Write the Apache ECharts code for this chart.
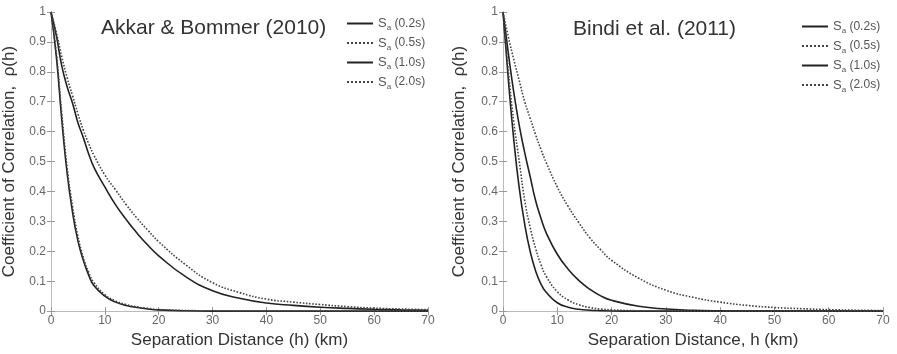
<!DOCTYPE html>
<html>
<head>
<meta charset="utf-8">
<script src="https://cdn.jsdelivr.net/npm/echarts@6/dist/echarts.min.js"></script>
<style>
  html, body { margin: 0; padding: 0; background: #fff; }
  #chart { width: 897px; height: 354px; }
</style>
</head>
<body>
<div id="chart"></div>
<script>
// ── Data ──
const distanceKm = [0, 1, 2, 3, 4, 5, 6, 7, 8, 10, 12, 14, 16, 18, 20, 25, 30, 35, 40, 45, 50, 55, 60, 65, 70];
const periodNames = ['Sa (0.2s)', 'Sa (0.5s)', 'Sa (1.0s)', 'Sa (2.0s)'];

// Akkar & Bommer (2010)
const akkar02 = [1, 0.85, 0.64, 0.46, 0.33, 0.235, 0.17, 0.12, 0.085, 0.05, 0.03, 0.019, 0.012, 0.007, 0.004, 0.001, 0, 0, 0, 0, 0, 0, 0, 0, 0];
const akkar05 = [1, 0.86, 0.66, 0.48, 0.35, 0.25, 0.18, 0.13, 0.095, 0.055, 0.034, 0.022, 0.014, 0.009, 0.005, 0.002, 0.001, 0, 0, 0, 0, 0, 0, 0, 0];
const akkar10 = [1, 0.92, 0.82, 0.75, 0.695, 0.63, 0.58, 0.525, 0.48, 0.415, 0.355, 0.305, 0.26, 0.22, 0.185, 0.115, 0.068, 0.043, 0.027, 0.019, 0.013, 0.009, 0.006, 0.004, 0.003];
const akkar20 = [1, 0.93, 0.85, 0.78, 0.72, 0.66, 0.605, 0.56, 0.52, 0.455, 0.405, 0.355, 0.31, 0.27, 0.232, 0.155, 0.095, 0.062, 0.04, 0.03, 0.022, 0.015, 0.01, 0.007, 0.005];

// Bindi et al. (2011)
const bindi02 = [1, 0.77, 0.57, 0.41, 0.29, 0.2, 0.135, 0.09, 0.062, 0.028, 0.013, 0.006, 0.003, 0.0015, 0.0005, 0, 0, 0, 0, 0, 0, 0, 0, 0, 0];
const bindi05 = [1, 0.8, 0.63, 0.5, 0.37, 0.28, 0.21, 0.155, 0.115, 0.065, 0.037, 0.021, 0.012, 0.007, 0.004, 0.001, 0, 0, 0, 0, 0, 0, 0, 0, 0];
const bindi10 = [1, 0.86, 0.73, 0.62, 0.53, 0.45, 0.37, 0.31, 0.26, 0.19, 0.14, 0.102, 0.073, 0.051, 0.036, 0.016, 0.007, 0.003, 0.001, 0, 0, 0, 0, 0, 0];
const bindi20 = [1, 0.915, 0.84, 0.77, 0.7, 0.645, 0.59, 0.54, 0.495, 0.415, 0.35, 0.295, 0.245, 0.205, 0.17, 0.11, 0.07, 0.046, 0.03, 0.019, 0.012, 0.008, 0.005, 0.003, 0.002];

const FONT = '"Liberation Sans", Arial, sans-serif';
const TICK_GRAY = '#999';
const LABEL_GRAY = '#666';
const TEXT_DARK = '#333';

const grids = [
  { left: 48, top: 12, width: 380, height: 300 },
  { left: 503, top: 12, width: 380, height: 300 },
];

function pairs(ys) {
  return distanceKm.map((x, i) => [x, ys[i]]);
}

function bottomAxis(gridIndex, name) {
  return {
    type: 'value', gridIndex, position: 'bottom',
    min: 0, max: 70, interval: 10,
    name, nameLocation: 'middle', nameGap: 20,
    nameTextStyle: { fontFamily: FONT, fontSize: 17, color: TEXT_DARK },
    axisLine: { show: true, lineStyle: { color: '#aaa' } },
    axisTick: { show: true, inside: true, length: 4, lineStyle: { color: TICK_GRAY } },
    axisLabel: { fontFamily: FONT, fontSize: 12, color: LABEL_GRAY, margin: 4 },
    splitLine: { show: false },
  };
}

function topAxis(gridIndex) {
  return {
    type: 'value', gridIndex, position: 'top',
    min: 0, max: 70, interval: 10,
    axisLine: { show: true, lineStyle: { color: '#bbb' } },
    axisTick: { show: true, inside: true, length: 4, lineStyle: { color: TICK_GRAY } },
    axisLabel: { show: false },
    splitLine: { show: false },
  };
}

function leftAxis(gridIndex, nameGap) {
  return {
    type: 'value', gridIndex, position: 'left',
    min: 0, max: 1, interval: 0.1,
    name: 'Coefficient of Correlation,  ρ(h)', nameLocation: 'middle', nameGap,
    nameTextStyle: { fontFamily: FONT, fontSize: 17, color: TEXT_DARK },
    axisLine: { show: true, lineStyle: { color: '#aaa' } },
    axisTick: { show: true, inside: true, length: 4, lineStyle: { color: TICK_GRAY } },
    axisLabel: { fontFamily: FONT, fontSize: 12, color: LABEL_GRAY, margin: 5 },
    splitLine: { show: false },
  };
}

function rightAxis(gridIndex) {
  return {
    type: 'value', gridIndex, position: 'right',
    min: 0, max: 1, interval: 0.1,
    axisLine: { show: true, lineStyle: { color: '#bbb' } },
    axisTick: { show: true, inside: true, length: 4, lineStyle: { color: TICK_GRAY } },
    axisLabel: { show: false },
    splitLine: { show: false },
  };
}

// solid for 0.2s / 1.0s, dotted for 0.5s / 2.0s
function curve(name, ys, panel, dotted) {
  const color = dotted ? '#444' : '#222';
  return {
    name, type: 'line',
    xAxisIndex: panel * 2, yAxisIndex: panel * 2,
    data: pairs(ys),
    smooth: 0.5,
    symbol: 'none',
    color,
    itemStyle: { color },
    lineStyle: { width: 1.6, color, type: dotted ? 'dotted' : 'solid' },
    z: dotted ? 3 : 2,
  };
}

function legendFor(left, top) {
  const txt = { color: '#555', fontFamily: FONT };
  return {
    orient: 'vertical', left, top, padding: 0,
    itemWidth: 26, itemHeight: 10, itemGap: 4.5,
    data: periodNames,
    itemStyle: { color: 'transparent', borderColor: 'transparent', borderWidth: 0 },
    formatter: (name) => '{s|S}{sub|a}{p| ' + name.slice(3) + '}',
    textStyle: {
      ...txt,
      rich: {
        s: { ...txt, fontSize: 13, lineHeight: 17, verticalAlign: 'middle' },
        sub: { ...txt, fontSize: 8, lineHeight: 8, verticalAlign: 'bottom' },
        p: { ...txt, fontSize: 12, lineHeight: 17, verticalAlign: 'middle' },
      },
    },
  };
}

const chart = echarts.init(document.getElementById('chart'), null, { renderer: 'canvas' });

chart.setOption({
  animation: false,
  backgroundColor: '#fff',
  title: [
    { text: 'Akkar & Bommer (2010)', left: 96, top: 13,
      textStyle: { fontFamily: FONT, fontSize: 21, fontWeight: 'normal', color: TEXT_DARK } },
    { text: 'Bindi et al. (2011)', left: 568, top: 14,
      textStyle: { fontFamily: FONT, fontSize: 21, fontWeight: 'normal', color: TEXT_DARK } },
  ],
  legend: [legendFor(346, 17), legendFor(801, 20)],
  grid: grids,
  xAxis: [
    bottomAxis(0, 'Separation Distance (h) (km)'), topAxis(0),
    bottomAxis(1, 'Separation Distance, h (km)'), topAxis(1),
  ],
  yAxis: [
    leftAxis(0, 33), rightAxis(0),
    leftAxis(1, 35), rightAxis(1),
  ],
  series: [
    curve(periodNames[0], akkar02, 0, false),
    curve(periodNames[1], akkar05, 0, true),
    curve(periodNames[2], akkar10, 0, false),
    curve(periodNames[3], akkar20, 0, true),
    curve(periodNames[0], bindi02, 1, false),
    curve(periodNames[1], bindi05, 1, true),
    curve(periodNames[2], bindi10, 1, false),
    curve(periodNames[3], bindi20, 1, true),
  ],
});
</script>
</body>
</html>
